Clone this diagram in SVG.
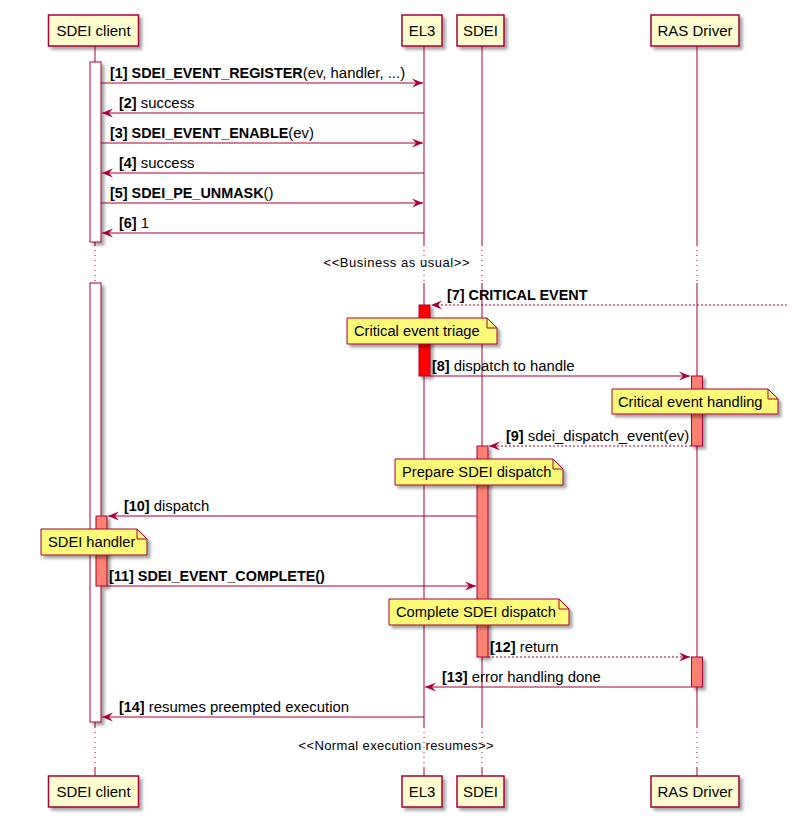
<svg xmlns="http://www.w3.org/2000/svg" width="798" height="825" viewBox="0 0 798 825">
<style>
text{font-family:"Liberation Sans",Arial,sans-serif;fill:#000}
.part rect{fill:#FEFECE;stroke:#A80036;stroke-width:1.5}
.pt{font-size:15px;text-anchor:middle}
.life{stroke:#A80036;stroke-width:1;fill:none}
.dots{stroke:#A80036;stroke-width:1;stroke-dasharray:1,4;fill:none}
.act{stroke:#A80036;stroke-width:1}
.note path.bx{fill:#FBFB77;stroke:#A80036;stroke-width:1}
.note path.f{fill:none;stroke:#A80036;stroke-width:1}
.nt{font-size:14.7px}
.msg{stroke:#A80036;stroke-width:1.1;fill:none}
.dash{stroke-dasharray:2,2}
.ml{font-size:14.9px}
.b{font-weight:bold;font-size:14.4px}
.delay{font-size:13px;text-anchor:middle}
</style>
<defs>
<filter id="sh" x="-20%" y="-20%" width="160%" height="160%">
<feDropShadow dx="3" dy="3" stdDeviation="1.8" flood-color="#000" flood-opacity="0.35"/>
</filter>
<marker id="ah" viewBox="-12 -6 13 12" refX="0" refY="0" markerWidth="13" markerHeight="12" markerUnits="userSpaceOnUse" orient="auto">
<path d="M0,0 L-11,-4.5 L-7,0 L-11,4.5 Z" fill="#A80036"/>
</marker>
</defs>
<rect width="798" height="825" fill="#FFFFFF"/>

<g id="lifelines">
<path class="life" d="M95,46V245M95,283V727M95,768V776 M424,46V245M424,283V727M424,768V776 M482,46V245M482,283V727M482,768V776 M697,46V245M697,283V727M697,768V776"/>
<path class="dots" d="M95,245V283M95,727V768 M424,245V283M424,727V768 M482,245V283M482,727V768 M697,245V283M697,727V768"/>
</g>

<g id="activations" filter="url(#sh)">
<rect class="act" x="90" y="62" width="11" height="180" fill="#FFFFFF"/>
<rect class="act" x="90" y="283" width="11" height="439" fill="#FFFFFF"/>
<rect class="act" x="96" y="516" width="11" height="70" fill="#FA8072"/>
<rect class="act" x="419" y="305" width="11" height="71" fill="#FF0000"/>
<rect class="act" x="691.5" y="376" width="11" height="70" fill="#FA8072"/>
<rect class="act" x="477" y="446" width="11" height="211" fill="#FA8072"/>
<rect class="act" x="691.5" y="657" width="11" height="30" fill="#FA8072"/>
</g>

<g id="p_client" class="part">
<rect x="48.5" y="15" width="90" height="31" filter="url(#sh)"/>
<text class="pt" x="93.5" y="36">SDEI client</text>
<rect x="48.5" y="776" width="90" height="31" filter="url(#sh)"/>
<text class="pt" x="93.5" y="797">SDEI client</text>
</g>
<g id="p_el3" class="part">
<rect x="402" y="15" width="40" height="31" filter="url(#sh)"/>
<text class="pt" x="422" y="36">EL3</text>
<rect x="402" y="776" width="40" height="31" filter="url(#sh)"/>
<text class="pt" x="422" y="797">EL3</text>
</g>
<g id="p_sdei" class="part">
<rect x="457" y="15" width="47" height="31" filter="url(#sh)"/>
<text class="pt" x="480.5" y="36">SDEI</text>
<rect x="457" y="776" width="47" height="31" filter="url(#sh)"/>
<text class="pt" x="480.5" y="797">SDEI</text>
</g>
<g id="p_ras" class="part">
<rect x="651" y="15" width="88" height="31" filter="url(#sh)"/>
<text class="pt" x="695" y="36">RAS Driver</text>
<rect x="651" y="776" width="88" height="31" filter="url(#sh)"/>
<text class="pt" x="695" y="797">RAS Driver</text>
</g>

<g id="delays">
<text class="delay" x="396.5" y="267" textLength="146" lengthAdjust="spacing">&lt;&lt;Business as usual&gt;&gt;</text>
<text class="delay" x="396" y="750" textLength="195" lengthAdjust="spacing">&lt;&lt;Normal execution resumes&gt;&gt;</text>
</g>

<g id="note_triage" class="note">
<path class="bx" filter="url(#sh)" d="M347,318H487L497,328V344H347Z"/>
<path class="f" d="M487,318V328H497"/>
<text class="nt" x="354" y="336">Critical event triage</text>
</g>
<g id="note_handling" class="note">
<path class="bx" filter="url(#sh)" d="M612,389H768L778,399V414H612Z"/>
<path class="f" d="M768,389V399H778"/>
<text class="nt" x="618" y="407">Critical event handling</text>
</g>
<g id="note_prepare" class="note">
<path class="bx" filter="url(#sh)" d="M395,459H553L563,469V485H395Z"/>
<path class="f" d="M553,459V469H563"/>
<text class="nt" x="402" y="477">Prepare SDEI dispatch</text>
</g>
<g id="note_handler" class="note">
<path class="bx" filter="url(#sh)" d="M41,529H137L147,539V555H41Z"/>
<path class="f" d="M137,529V539H147"/>
<text class="nt" x="48" y="547">SDEI handler</text>
</g>
<g id="note_complete" class="note">
<path class="bx" filter="url(#sh)" d="M389,599H559L569,609V625H389Z"/>
<path class="f" d="M559,599V609H569"/>
<text class="nt" x="396" y="617">Complete SDEI dispatch</text>
</g>

<g id="connectors">
<line class="msg" x1="101" y1="83" x2="423" y2="83" marker-end="url(#ah)"/>
<text class="ml" x="110" y="78"><tspan class="b">[1] SDEI_EVENT_REGISTER</tspan>(ev, handler, ...)</text>
<line class="msg" x1="424" y1="113" x2="102" y2="113" marker-end="url(#ah)"/>
<text class="ml" x="119" y="108"><tspan class="b">[2]</tspan> success</text>
<line class="msg" x1="101" y1="143" x2="423" y2="143" marker-end="url(#ah)"/>
<text class="ml" x="110" y="138"><tspan class="b">[3] SDEI_EVENT_ENABLE</tspan>(ev)</text>
<line class="msg" x1="424" y1="173" x2="102" y2="173" marker-end="url(#ah)"/>
<text class="ml" x="119" y="168"><tspan class="b">[4]</tspan> success</text>
<line class="msg" x1="101" y1="203" x2="423" y2="203" marker-end="url(#ah)"/>
<text class="ml" x="110" y="198"><tspan class="b">[5] SDEI_PE_UNMASK</tspan>()</text>
<line class="msg" x1="424" y1="233" x2="102" y2="233" marker-end="url(#ah)"/>
<text class="ml" x="119" y="228"><tspan class="b">[6]</tspan> 1</text>
<line class="msg dash" x1="787" y1="305" x2="431" y2="305" marker-end="url(#ah)"/>
<text class="ml b" x="447" y="300">[7] CRITICAL EVENT</text>
<line class="msg" x1="430" y1="376" x2="690" y2="376" marker-end="url(#ah)"/>
<text class="ml" x="432" y="371"><tspan class="b">[8]</tspan> dispatch to handle</text>
<line class="msg dash" x1="691" y1="446" x2="489" y2="446" marker-end="url(#ah)"/>
<text class="ml" x="506" y="441"><tspan class="b">[9]</tspan> sdei_dispatch_event(ev)</text>
<line class="msg" x1="477" y1="516" x2="108" y2="516" marker-end="url(#ah)"/>
<text class="ml" x="124" y="511"><tspan class="b">[10]</tspan> dispatch</text>
<line class="msg" x1="107" y1="586" x2="476" y2="586" marker-end="url(#ah)"/>
<text class="ml b" x="109" y="581">[11] SDEI_EVENT_COMPLETE()</text>
<line class="msg dash" x1="488" y1="657" x2="690" y2="657" marker-end="url(#ah)"/>
<text class="ml" x="490" y="652"><tspan class="b">[12]</tspan> return</text>
<line class="msg" x1="691" y1="687" x2="425" y2="687" marker-end="url(#ah)"/>
<text class="ml" x="442" y="682"><tspan class="b">[13]</tspan> error handling done</text>
<line class="msg" x1="424" y1="717" x2="102" y2="717" marker-end="url(#ah)"/>
<text class="ml" x="119" y="712"><tspan class="b">[14]</tspan> resumes preempted execution</text>
</g>
</svg>
